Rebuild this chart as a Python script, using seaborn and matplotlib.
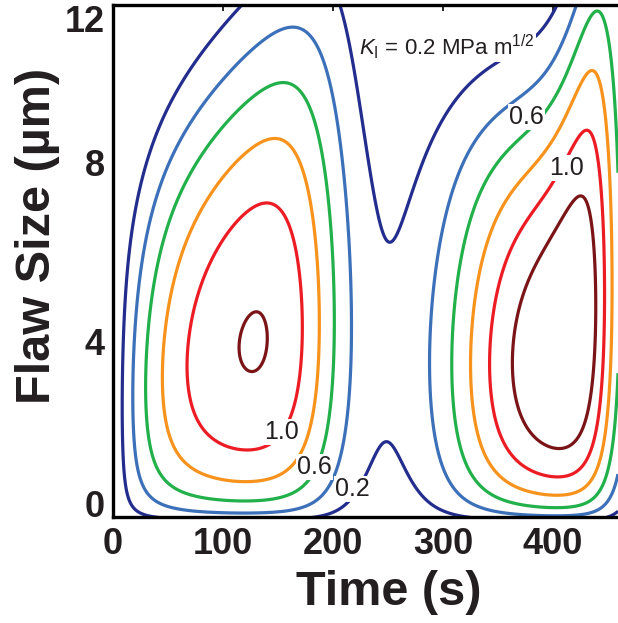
import numpy as np
import matplotlib
matplotlib.use("Agg")
import matplotlib.pyplot as plt
import seaborn as sns

# ---------------- data ----------------
# contour levels of K_I (MPa m^1/2) and their colours
LEVELS = [0.2, 0.4, 0.6, 0.8, 1.0, 1.2]
LEVEL_COLORS = ["#232d8e", "#3c70b9", "#22b04b", "#f7931d", "#ec1c24", "#7b1416"]

# axis ranges / ticks
TIME_RANGE = [0.0, 459.0]
FLAW_RANGE = [0.11, 11.49]
X_TICKS = [0, 100, 200, 300, 400]
X_TICK_LABELS = ["0", "100", "200", "300", "400"]
Y_TICKS = [0.11, 2, 4, 6, 8, 10, 11.49]
Y_TICK_LABELS = ["0", "", "4", "", "8", "", "12"]

# stress-intensity model parameters for the two loading cycles
LOBE1_AMP, LOBE1_RISE_TAU, LOBE1_FALL_T, LOBE1_FALL_W = 0.993, 40.0, 193.0, 21.5
LOBE1_DEPTH0, LOBE1_DEPTH_GAIN, LOBE1_DEPTH_TAU, LOBE1_DEPTH_SLOPE = 6.9, 2.0, 25.0, 0.024
LOBE1_DEPTH_DROP, LOBE1_DROP_T, LOBE1_DROP_W = 2.0, 228.0, 10.0
LOBE2_AMP, LOBE2_RISE_T, LOBE2_RISE_W, LOBE2_FALL_T, LOBE2_FALL_W = 1.22, 322.0, 31.5, 450.0, 14.0
LOBE2_DEPTH0, LOBE2_DEPTH_GAIN, LOBE2_DEPTH_T, LOBE2_DEPTH_W = 10.5, 7.0, 435.0, 17.0
TAIL_SOFTNESS = 0.08

# contour labels
LABEL_TEXT = ["1.0", "0.6", "0.2", "0.6", "1.0"]
LABEL_TIME = [153.6, 183.0, 218.0, 376.0, 412.5]
LABEL_FLAW = [2.0, 1.22, 0.73, 9.0, 7.87]
KI_TEXT = r"$K_\mathrm{I}$ = 0.2 MPa m$^{1/2}$"
KI_TIME, KI_FLAW = 224.0, 10.56


# ---------------- field ----------------
def sig(x):
    return 1.0 / (1.0 + np.exp(-x))


def profile(a, depth):
    s = TAIL_SOFTNESS
    return np.sqrt(a) * s * np.logaddexp(0.0, (1.0 - a / depth) / s)


t = np.linspace(TIME_RANGE[0], TIME_RANGE[1], 700)
a = np.linspace(0.0, 11.7, 600)
T, A = np.meshgrid(t, a)

amp1 = LOBE1_AMP * (1 - np.exp(-T / LOBE1_RISE_TAU)) * sig((LOBE1_FALL_T - T) / LOBE1_FALL_W)
dep1 = (LOBE1_DEPTH0 + LOBE1_DEPTH_GAIN * (1 - np.exp(-T / LOBE1_DEPTH_TAU))
        + LOBE1_DEPTH_SLOPE * T - LOBE1_DEPTH_DROP * sig((T - LOBE1_DROP_T) / LOBE1_DROP_W))
amp2 = LOBE2_AMP * sig((T - LOBE2_RISE_T) / LOBE2_RISE_W) * sig((LOBE2_FALL_T - T) / LOBE2_FALL_W)
dep2 = LOBE2_DEPTH0 + LOBE2_DEPTH_GAIN * sig((T - LOBE2_DEPTH_T) / LOBE2_DEPTH_W)
K = amp1 * profile(A, dep1) + amp2 * profile(A, dep2)

# ---------------- plot ----------------
sns.set_style("white")
plt.rcParams["font.family"] = ["Liberation Sans", "DejaVu Sans"]
plt.rcParams["mathtext.fontset"] = "custom"
plt.rcParams["mathtext.rm"] = "Liberation Sans"
plt.rcParams["mathtext.it"] = "Liberation Sans:italic"

W, H = 618, 623
fig = plt.figure(figsize=(W / 100, H / 100), dpi=100)
ax = fig.add_axes([113 / W, 106 / H, 505 / W, 512 / H])

ax.contour(T, A, K, levels=LEVELS, colors=LEVEL_COLORS, linewidths=2.3)

ax.set_xlim(TIME_RANGE)
ax.set_ylim(FLAW_RANGE)
ax.set_xticks(X_TICKS)
ax.set_xticklabels(X_TICK_LABELS)
ax.set_yticks(Y_TICKS)
ax.set_yticklabels(Y_TICK_LABELS)
ax.tick_params(axis="both", direction="in", length=4, width=1.2, color="black",
               labelsize=26, labelcolor="#231f20")
ax.tick_params(axis="x", top=True, pad=7)
ax.tick_params(axis="y", right=False, pad=6)
for lab in ax.get_xticklabels() + ax.get_yticklabels():
    lab.set_fontweight("bold")
ylabs = ax.get_yticklabels()
ylabs[0].set_verticalalignment("baseline")
ylabs[-1].set_verticalalignment("top")

for side in ["left", "bottom", "top"]:
    ax.spines[side].set_linewidth(2.4)
    ax.spines[side].set_color("black")
ax.spines["right"].set_visible(False)

for txt, tx, fy in zip(LABEL_TEXT, LABEL_TIME, LABEL_FLAW):
    ax.text(tx, fy, txt, fontsize=18, color="#231f20", ha="center", va="center",
            zorder=5, bbox=dict(boxstyle="square,pad=0.05", fc="white", ec="none"))
ax.text(KI_TIME, KI_FLAW, KI_TEXT, fontsize=16, color="#231f20", ha="left", va="center",
        zorder=5, bbox=dict(boxstyle="square,pad=0.05", fc="white", ec="none"))

fig.text(389 / W, 1 - 605 / H, "Time (s)", fontsize=35, fontweight="bold",
         color="#231f20", ha="center", va="baseline")
fig.text(50 / W, 1 - 236 / H, "Flaw Size (\u00b5m)", fontsize=35, fontweight="bold",
         color="#231f20", ha="center", va="baseline", rotation=90, rotation_mode="anchor")

fig.savefig("out.png", dpi=100)
